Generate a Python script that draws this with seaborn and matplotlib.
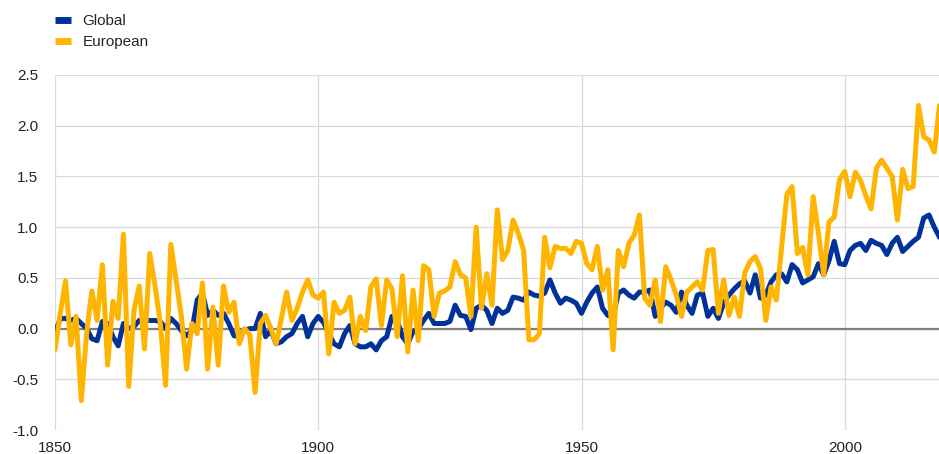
import numpy as np
import pandas as pd
import matplotlib.pyplot as plt
import seaborn as sns
from matplotlib.lines import Line2D

# temperature anomalies, one value per year 1850-2018
years = list(range(1850, 2019))

global_temp = [
    -0.05, 0.10, 0.10, 0.08, 0.10, 0.05, 0.00, -0.10, -0.12, 0.07,
    0.05, -0.08, -0.17, 0.05, 0.00, 0.02, 0.08, 0.08, 0.08, 0.08,
    0.07, 0.00, 0.10, 0.05, -0.02, -0.07, -0.02, 0.28, 0.35, 0.13,
    0.18, 0.13, 0.15, 0.05, -0.07, -0.08, -0.02, 0.00, 0.00, 0.15,
    -0.08, -0.02, -0.15, -0.13, -0.08, -0.05, 0.05, 0.12, -0.08, 0.05,
    0.12, 0.06, -0.05, -0.15, -0.18, -0.05, 0.03, -0.15, -0.18, -0.18,
    -0.15, -0.21, -0.12, -0.08, 0.12, 0.08, -0.08, -0.15, -0.03, 0.00,
    0.08, 0.15, 0.05, 0.05, 0.05, 0.07, 0.23, 0.13, 0.12, -0.01,
    0.20, 0.23, 0.18, 0.05, 0.20, 0.15, 0.18, 0.31, 0.30, 0.28,
    0.36, 0.33, 0.32, 0.35, 0.48, 0.35, 0.25, 0.30, 0.28, 0.25,
    0.15, 0.26, 0.35, 0.41, 0.20, 0.13, 0.12, 0.35, 0.38, 0.33,
    0.30, 0.36, 0.36, 0.38, 0.12, 0.20, 0.26, 0.23, 0.16, 0.36,
    0.23, 0.15, 0.33, 0.35, 0.12, 0.20, 0.10, 0.25, 0.33, 0.39,
    0.44, 0.47, 0.35, 0.53, 0.30, 0.33, 0.46, 0.53, 0.54, 0.46,
    0.63, 0.58, 0.45, 0.48, 0.51, 0.64, 0.53, 0.67, 0.86, 0.64,
    0.63, 0.77, 0.82, 0.84, 0.77, 0.87, 0.84, 0.82, 0.73, 0.84,
    0.90, 0.76, 0.81, 0.86, 0.90, 1.09, 1.12, 1.00, 0.90,
]

european_temp = [
    -0.21, 0.15, 0.47, -0.16, 0.12, -0.71, -0.05, 0.37, 0.08, 0.63,
    -0.36, 0.27, 0.10, 0.93, -0.57, 0.18, 0.42, -0.20, 0.74, 0.42,
    0.05, -0.56, 0.83, 0.48, 0.12, -0.40, 0.05, -0.05, 0.45, -0.40,
    0.21, -0.36, 0.42, 0.16, 0.26, -0.15, 0.00, -0.06, -0.63, 0.05,
    0.13, 0.00, -0.15, 0.10, 0.36, 0.08, 0.20, 0.36, 0.48, 0.33,
    0.30, 0.36, -0.25, 0.26, 0.15, 0.18, 0.31, -0.15, 0.12, -0.02,
    0.41, 0.49, 0.03, 0.48, 0.39, -0.08, 0.52, -0.23, 0.38, -0.12,
    0.62, 0.58, 0.12, 0.35, 0.37, 0.41, 0.66, 0.53, 0.50, 0.12,
    1.00, 0.20, 0.54, 0.23, 1.17, 0.68, 0.77, 1.07, 0.94, 0.77,
    -0.11, -0.11, -0.05, 0.90, 0.60, 0.81, 0.79, 0.79, 0.74, 0.86,
    0.84, 0.64, 0.58, 0.81, 0.38, 0.58, -0.21, 0.77, 0.61, 0.84,
    0.92, 1.12, 0.30, 0.23, 0.48, 0.07, 0.61, 0.48, 0.33, 0.12,
    0.36, 0.41, 0.46, 0.38, 0.77, 0.78, 0.15, 0.48, 0.13, 0.31,
    0.12, 0.55, 0.66, 0.71, 0.59, 0.08, 0.41, 0.28, 0.80, 1.32,
    1.40, 0.74, 0.80, 0.53, 1.30, 0.94, 0.53, 1.05, 1.10, 1.47,
    1.55, 1.30, 1.54, 1.46, 1.31, 1.18, 1.58, 1.66, 1.58, 1.50,
    1.07, 1.57, 1.38, 1.40, 2.20, 1.89, 1.86, 1.74, 2.20,
]

series_names = ["Global", "European"]
colors = ["#003299", "#FFB400"]
x_ticks = [1850, 1900, 1950, 2000]
y_ticks = [-1.0, -0.5, 0.0, 0.5, 1.0, 1.5, 2.0, 2.5]

df = pd.DataFrame({"year": years, "Global": global_temp, "European": european_temp})
df = df.melt(id_vars="year", var_name="series", value_name="anomaly")

sns.set_style("white")
plt.rcParams["font.family"] = ["Liberation Sans", "DejaVu Sans"]

fig = plt.figure(figsize=(9.39, 4.54), dpi=100)
ax = fig.add_axes([55 / 939, 24 / 454, 884 / 939, 355 / 454])

sns.lineplot(data=df, x="year", y="anomaly", hue="series", hue_order=series_names,
             palette=colors, linewidth=3.6, legend=False, ax=ax, zorder=3)

ax.axhline(0, color="#808080", lw=1.6, zorder=2)

ax.set_xlim(1850, 2017.9)
ax.set_ylim(-1.0, 2.5)
ax.set_xticks(x_ticks)
ax.set_yticks(y_ticks)
ax.set_yticklabels([f"{v:.1f}" for v in y_ticks])
ax.grid(True, color="#d9d9d9", lw=0.9, zorder=0)
ax.set_axisbelow(True)
for s in ax.spines.values():
    s.set_visible(False)
ax.tick_params(length=0, labelsize=11, colors="#222222")
ax.tick_params(axis="y", pad=12)
ax.tick_params(axis="x", pad=8)
ax.set_xlabel("")
ax.set_ylabel("")

handles = [Line2D([0], [0], color=c, lw=5, solid_capstyle="butt") for c in colors]
fig.legend(handles, series_names, loc="upper left", bbox_to_anchor=(55 / 939, 1 - 14 / 454),
           frameon=False, fontsize=11, handlelength=1.05, handletextpad=0.75,
           labelspacing=0.45, borderpad=0, borderaxespad=0)

plt.savefig("out.png", dpi=100)
plt.close()
